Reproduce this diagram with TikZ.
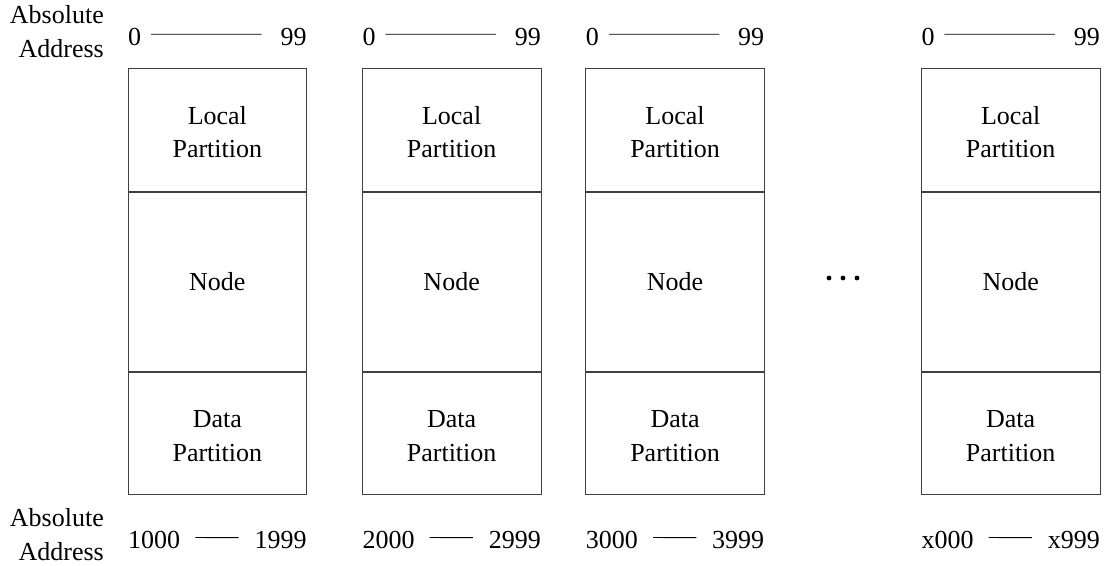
\documentclass[tikz,border=0pt]{standalone}
\usepackage{fontspec}
\setmainfont{Liberation Serif}
\begin{document}
\begin{tikzpicture}[x=1pt,y=-1pt,
  part/.style={draw=black!75, line width=0.9pt, rectangle, inner sep=0pt,
               minimum width=178.7pt, align=center,
               font=\fontsize{26}{33.5}\selectfont},
  twoline/.style={text height=55.6pt, text depth=0pt},
  lbl/.style={inner sep=0pt, font=\fontsize{26}{34}\selectfont},
  rule/.style={draw=black, line width=0.8pt},
  dot/.style={circle, fill=black, inner sep=0pt, minimum size=4.8pt}]
\useasboundingbox (0,0) rectangle (1107,565);

% side captions
\node[lbl, align=right, anchor=north east] (absT) at (104,4.9) {Absolute\\Address};
\node[lbl, align=right, anchor=north east] (absB) at (104,508.6) {Absolute\\Address};

% memory columns: local partition, node, data partition
\foreach \i/\L/\lo/\hi in {1/128/1000/1999, 2/362.3/2000/2999,
                           3/585.7/3000/3999, 4/921.3/x000/x999}{
  \node[part, twoline, minimum height=123pt, anchor=north] (lp\i) at ({\L+89.35},68) {Local\\Partition};
  \node[part, minimum height=179pt, anchor=north] (nd\i) at (lp\i.south) {Node};
  \node[part, twoline, minimum height=122.3pt, anchor=north] (dp\i) at (nd\i.south) {Data\\Partition};

  % relative address range above
  \node[lbl, anchor=base west] (ra\i) at (\L,45) {0};
  \node[lbl, anchor=base east] (rb\i) at ({\L+178.7},45) {99};
  \draw[rule] ([xshift=9.7pt,yshift=2.2pt]ra\i.east) -- ([xshift=-18.7pt,yshift=2.2pt]rb\i.west);

  % absolute address range below
  \node[lbl, anchor=base west] (aa\i) at (\L,548.3) {\lo};
  \node[lbl, anchor=base east] (ab\i) at ({\L+178.7},548.3) {\hi};
  \draw[rule] ([xshift=15pt,yshift=2.2pt]aa\i.east) -- ([xshift=-15.7pt,yshift=2.2pt]ab\i.west);
}

% ellipsis between the third and last column
\node[dot] (d1) at (829,278) {};
\node[dot] (d2) at (843,278) {};
\node[dot] (d3) at (857,278) {};
\end{tikzpicture}
\end{document}
